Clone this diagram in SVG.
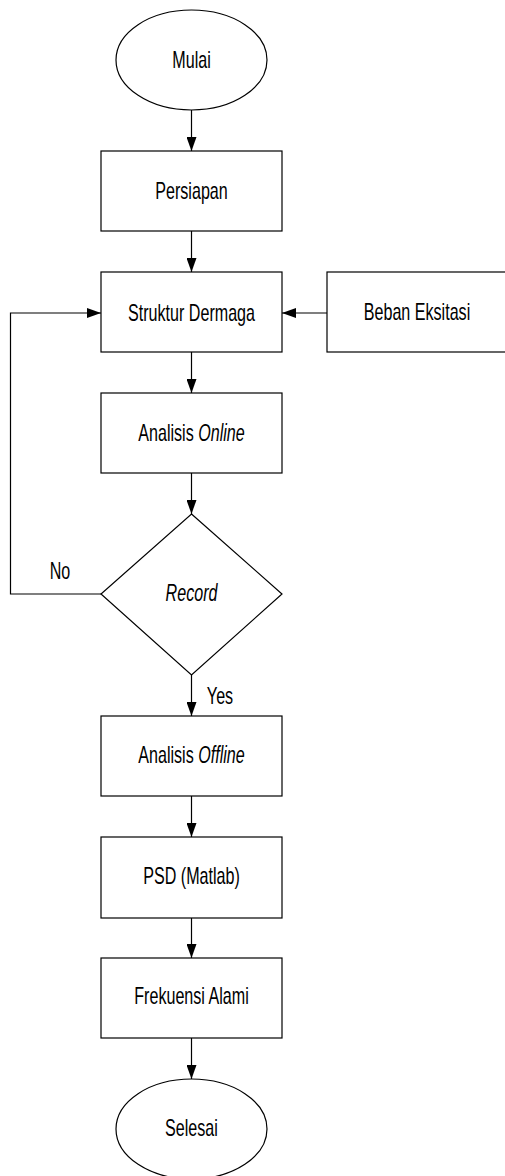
<svg xmlns="http://www.w3.org/2000/svg" width="505" height="1176" viewBox="0 0 505 1176">
<style>
.s{fill:#fff;stroke:#000;stroke-width:1.2}
.c{fill:none;stroke:#000;stroke-width:1.2}
text{font-family:"Liberation Sans",Arial,sans-serif;font-size:23px;fill:#000;text-anchor:middle}
.i{font-style:italic}
</style>
<defs>
<marker id="a" markerWidth="14" markerHeight="10" refX="14" refY="5" orient="auto" markerUnits="userSpaceOnUse">
<path d="M0,0 L14,5 L0,10 Z" fill="#000"/>
</marker>
</defs>
<g id="connectors">
<line class="c" x1="191.5" y1="110" x2="191.5" y2="151" marker-end="url(#a)"/>
<line class="c" x1="191.5" y1="231" x2="191.5" y2="272" marker-end="url(#a)"/>
<line class="c" x1="327" y1="313" x2="282" y2="313" marker-end="url(#a)"/>
<line class="c" x1="191.5" y1="352" x2="191.5" y2="393" marker-end="url(#a)"/>
<line class="c" x1="191.5" y1="473" x2="191.5" y2="514" marker-end="url(#a)"/>
<polyline class="c" points="101,594 10.5,594 10.5,313 101,313" marker-end="url(#a)"/>
<line class="c" x1="191.5" y1="675" x2="191.5" y2="716" marker-end="url(#a)"/>
<line class="c" x1="191.5" y1="796" x2="191.5" y2="837" marker-end="url(#a)"/>
<line class="c" x1="191.5" y1="918" x2="191.5" y2="958" marker-end="url(#a)"/>
<line class="c" x1="191.5" y1="1038" x2="191.5" y2="1079" marker-end="url(#a)"/>
<text transform="translate(60,579) scale(0.7,1)">No</text>
<text transform="translate(220,704) scale(0.7,1)">Yes</text>
</g>
<g id="mulai">
<ellipse class="s" cx="191.5" cy="60" rx="75.5" ry="50"/>
<text transform="translate(191.5,68) scale(0.7,1)">Mulai</text>
</g>
<g id="persiapan">
<rect class="s" x="101" y="151" width="181" height="80"/>
<text transform="translate(191.5,199) scale(0.7,1)">Persiapan</text>
</g>
<g id="struktur">
<rect class="s" x="101" y="272" width="181" height="80"/>
<text transform="translate(191.5,321) scale(0.7,1)">Struktur Dermaga</text>
</g>
<g id="beban">
<rect class="s" x="327" y="272" width="181" height="80"/>
<text transform="translate(417,320) scale(0.7,1)">Beban Eksitasi</text>
</g>
<g id="online">
<rect class="s" x="101" y="393" width="181" height="80"/>
<text transform="translate(191.5,441) scale(0.7,1)">Analisis <tspan class="i">Online</tspan></text>
</g>
<g id="record">
<polygon class="s" points="191.5,514 282,594 191.5,675 101,594"/>
<text class="i" transform="translate(191.5,601) scale(0.7,1)">Record</text>
</g>
<g id="offline">
<rect class="s" x="101" y="716" width="181" height="80"/>
<text transform="translate(191.5,763) scale(0.7,1)">Analisis <tspan class="i">Offline</tspan></text>
</g>
<g id="psd">
<rect class="s" x="101" y="837" width="181" height="81"/>
<text transform="translate(191.5,884) scale(0.7,1)">PSD (Matlab)</text>
</g>
<g id="frekuensi">
<rect class="s" x="101" y="958" width="181" height="80"/>
<text transform="translate(191.5,1004) scale(0.7,1)">Frekuensi Alami</text>
</g>
<g id="selesai">
<ellipse class="s" cx="191.5" cy="1129" rx="75.5" ry="50"/>
<text transform="translate(191.5,1136) scale(0.7,1)">Selesai</text>
</g>
</svg>
